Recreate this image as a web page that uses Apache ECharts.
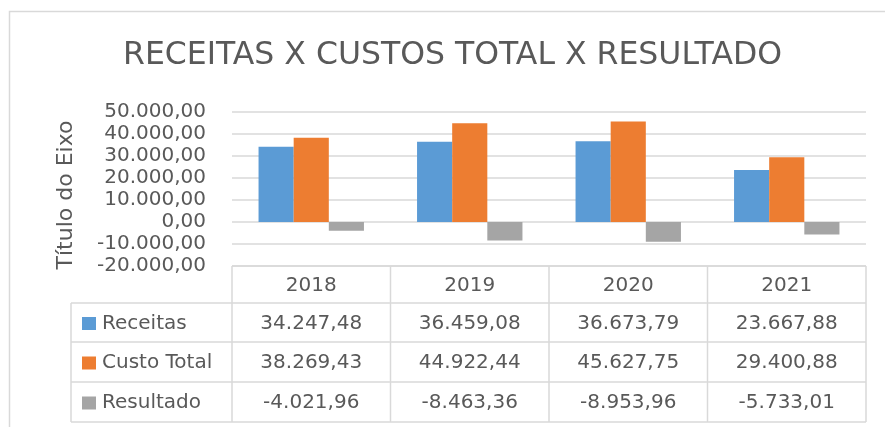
<!DOCTYPE html>
<html>
<head>
    <meta charset="utf-8">
    <title>Receitas x Custos Total x Resultado</title>
    <script src="https://cdn.jsdelivr.net/npm/echarts@6/dist/echarts.min.js"></script>
    <style>
        html, body { margin: 0; padding: 0; background: #fff; }
    </style>
</head>
<body>
<div id="main" style="width: 885px;height:427px;"></div>

<script type="text/javascript">
    let anos = ['2018', '2019', '2020', '2021']
    let receitas = [34247.48, 36459.08, 36673.79, 23667.88]
    let custoTotal = [38269.43, 44922.44, 45627.75, 29400.88]
    let resultado = [-4021.96, -8463.36, -8953.96, -5733.01]
    let nomesSeries = ['Receitas', 'Custo Total', 'Resultado']
    let cores = ['#5B9BD5', '#ED7D31', '#A5A5A5']

    // formato brasileiro: 34.247,48
    function fmt(v) {
        let neg = v < 0
        let s = Math.abs(v).toFixed(2).split('.')
        let inteiro = s[0].replace(/\B(?=(\d{3})+(?!\d))/g, '.')
        return (neg ? '-' : '') + inteiro + ',' + s[1]
    }

    let W = 885, H = 427
    let gridLeft = 232, gridRight = 866, gridTop = 112, gridBottom = 266
    let tabelaLeft = 71
    let linhas = [266, 303, 342, 382, 422]
    let fonte = 'DejaVu Sans'
    let corTexto = '#595959'
    let corLinha = '#D9D9D9'

    let myChart = echarts.init(document.getElementById('main'))

    // ---------- borda, título do eixo e tabela de dados ----------
    let graficos = []
    graficos.push({
        type: 'rect', silent: true,
        shape: { x: 9.5, y: 11.5, width: 900, height: 500 },
        style: { fill: 'none', stroke: corLinha, lineWidth: 1.5 }
    })
    graficos.push({
        type: 'text', silent: true, x: 66, y: 195, rotation: Math.PI / 2,
        style: { text: 'Título do Eixo', fill: corTexto, font: '22px "' + fonte + '"', align: 'center', verticalAlign: 'middle' }
    })
    let colW = (gridRight - gridLeft) / anos.length
    let dados = [receitas, custoTotal, resultado]
    function linha(x1, y1, x2, y2) {
        graficos.push({
            type: 'line', silent: true,
            shape: { x1: x1, y1: y1, x2: x2, y2: y2 },
            style: { stroke: corLinha, lineWidth: 1.5 }
        })
    }
    // linhas horizontais
    linha(gridLeft, linhas[0], gridRight, linhas[0])
    for (let i = 1; i < linhas.length; i++) {
        linha(tabelaLeft, linhas[i], gridRight, linhas[i])
    }
    // linhas verticais
    linha(tabelaLeft, linhas[1], tabelaLeft, linhas[4])
    for (let j = 0; j <= anos.length; j++) {
        linha(gridLeft + j * colW, linhas[0], gridLeft + j * colW, linhas[4])
    }
    // cabeçalho com os anos
    for (let j = 0; j < anos.length; j++) {
        graficos.push({
            type: 'text', silent: true,
            x: gridLeft + (j + 0.5) * colW, y: (linhas[0] + linhas[1]) / 2 + 1,
            style: { text: anos[j], fill: corTexto, font: '20px "' + fonte + '"', align: 'center', verticalAlign: 'middle' }
        })
    }
    // linhas de séries
    for (let i = 0; i < dados.length; i++) {
        let yc = (linhas[i + 1] + linhas[i + 2]) / 2 + 1
        graficos.push({
            type: 'rect', silent: true,
            shape: { x: 82, y: yc - 6.5, width: 14, height: 13 },
            style: { fill: cores[i] }
        })
        graficos.push({
            type: 'text', silent: true, x: 102, y: yc,
            style: { text: nomesSeries[i], fill: corTexto, font: '20px "' + fonte + '"', align: 'left', verticalAlign: 'middle' }
        })
        for (let j = 0; j < anos.length; j++) {
            graficos.push({
                type: 'text', silent: true,
                x: gridLeft + (j + 0.5) * colW, y: yc,
                style: { text: fmt(dados[i][j]), fill: corTexto, font: '20px "' + fonte + '"', align: 'center', verticalAlign: 'middle' }
            })
        }
    }

    let option = {
        animation: false,
        title: {
            text: 'RECEITAS X CUSTOS TOTAL X RESULTADO',
            left: 118,
            top: 35,
            textStyle: { fontFamily: fonte, fontSize: 31.5, fontWeight: 'normal', color: corTexto }
        },
        grid: {
            left: gridLeft,
            right: W - gridRight,
            top: gridTop,
            bottom: H - gridBottom,
            containLabel: false
        },
        xAxis: {
            type: 'category',
            data: anos,
            axisLine: { show: false },
            axisTick: { show: false },
            axisLabel: { show: false }
        },
        yAxis: {
            type: 'value',
            min: -20000,
            max: 50000,
            interval: 10000,
            axisLine: { show: false },
            axisTick: { show: false },
            axisLabel: {
                formatter: fmt,
                fontFamily: fonte,
                fontSize: 20,
                color: corTexto,
                margin: 26
            },
            splitLine: { lineStyle: { color: corLinha, width: 1.5 } }
        },
        series: [
            { name: nomesSeries[0], type: 'bar', data: receitas, itemStyle: { color: cores[0] }, barGap: '0%', barCategoryGap: '33.5%' },
            { name: nomesSeries[1], type: 'bar', data: custoTotal, itemStyle: { color: cores[1] }, barGap: '0%', barCategoryGap: '33.5%' },
            { name: nomesSeries[2], type: 'bar', data: resultado, itemStyle: { color: cores[2] }, barGap: '0%', barCategoryGap: '33.5%' }
        ],
        graphic: graficos
    }
    myChart.setOption(option)
</script>
</body>
</html>
